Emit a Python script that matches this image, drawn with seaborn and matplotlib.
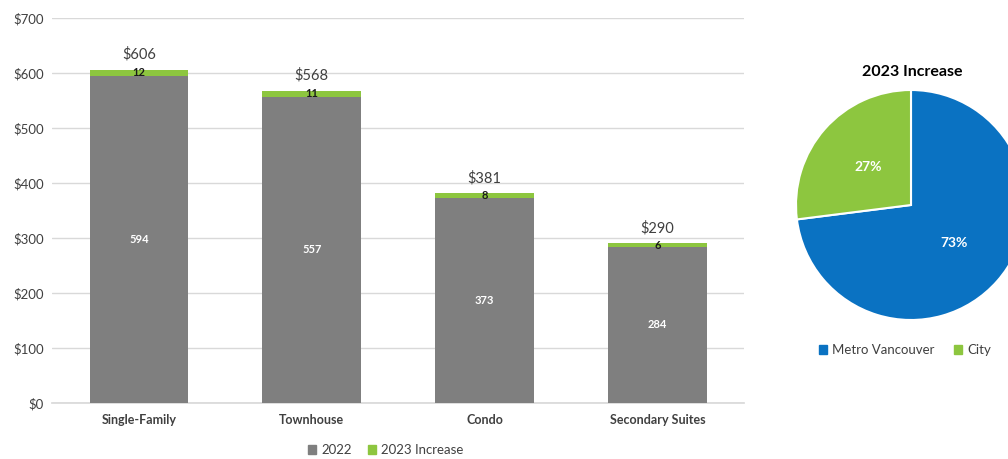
import matplotlib
matplotlib.use("Agg")
import matplotlib.pyplot as plt
import seaborn as sns
import pandas as pd
from matplotlib.patches import Patch

# Residential utility charges by dwelling type
categories = ["Single-Family", "Townhouse", "Condo", "Secondary Suites"]
charge_2022 = [594, 557, 373, 284]
increase_2023 = [12, 11, 8, 6]

# Split of the 2023 increase
pie_labels = ["Metro Vancouver", "City"]
pie_shares = [73, 27]

GRAY = "#7F7F7F"
GREEN = "#8DC63F"
BLUE = "#0A72C2"
TEXT = "#404040"

sns.set_theme(style="white")
plt.rcParams["font.family"] = ["Lato", "DejaVu Sans"]

totals = [a + b for a, b in zip(charge_2022, increase_2023)]
df = pd.DataFrame({"category": categories, "base": charge_2022,
                   "increase": increase_2023, "total": totals})

fig = plt.figure(figsize=(10.08, 4.59), dpi=100)
ax = fig.add_axes([0.052, 0.122, 0.686, 0.839])

sns.barplot(data=df, x="category", y="total", color=GREEN, saturation=1,
            width=0.57, ax=ax, zorder=2, linewidth=0)
sns.barplot(data=df, x="category", y="base", color=GREEN, saturation=1,
            width=0.57, ax=ax, zorder=3, linewidth=0)
for p in ax.patches[len(categories):]:
    p.set_facecolor(GRAY)

ax.set_ylim(0, 700)
ax.set_yticks(range(0, 701, 100))
ax.set_yticklabels([f"${v}" for v in range(0, 701, 100)], fontsize=9.5, color=TEXT)
ax.set_xlabel("")
ax.set_ylabel("")
ax.tick_params(axis="x", length=0, pad=8)
ax.tick_params(axis="y", length=0, pad=6)
for lbl in ax.get_xticklabels():
    lbl.set_fontweight("bold")
    lbl.set_fontsize(9)
    lbl.set_color(TEXT)
ax.yaxis.grid(True, color="#D9D9D9", linewidth=1, zorder=0)
ax.set_axisbelow(True)
for s in ["top", "right", "left"]:
    ax.spines[s].set_visible(False)
ax.spines["bottom"].set_color("#D9D9D9")

for i, (b, inc, t) in enumerate(zip(charge_2022, increase_2023, totals)):
    ax.text(i, b / 2, f"{b}", ha="center", va="center", color="white",
            fontsize=8, fontweight="bold", zorder=5)
    ax.text(i, b + inc / 2, f"{inc}", ha="center", va="center", color="#1A1A1A",
            fontsize=8, fontweight="bold", zorder=5)
    ax.text(i, t + 14, f"${t}", ha="center", va="bottom", color=TEXT,
            fontsize=10.5, zorder=5)

handles = [Patch(color=GRAY, label="2022"), Patch(color=GREEN, label="2023 Increase")]
fig.legend(handles=handles, loc="center", bbox_to_anchor=(386 / 1008, 1 - 450 / 459),
           ncol=2, frameon=False, fontsize=9.5, handlelength=0.6, handleheight=0.6,
           handletextpad=0.4, columnspacing=1.2, labelcolor=TEXT)

# Pie of the 2023 increase
pax = fig.add_axes([796 / 1008, (459 - 320) / 459, 230 / 1008, 230 / 459])
wedges, _, autotexts = pax.pie(pie_shares, colors=[BLUE, GREEN], startangle=90,
                               counterclock=False, autopct="%d%%", pctdistance=0.5,
                               wedgeprops=dict(edgecolor="white", linewidth=1.5),
                               textprops=dict(color="white", fontsize=10,
                                              fontweight="bold"))
pax.set_xlim(-1, 1)
pax.set_ylim(-1, 1)
pax.set_aspect("equal")
pax.axis("off")
fig.text(912 / 1008, 1 - 72 / 459, "2023 Increase", ha="center", va="center",
         fontsize=11.5, fontweight="bold", color="black")
pie_handles = [Patch(color=BLUE, label=pie_labels[0]),
               Patch(color=GREEN, label=pie_labels[1])]
fig.legend(handles=pie_handles, loc="center", bbox_to_anchor=(905 / 1008, 1 - 350 / 459),
           ncol=2, frameon=False, fontsize=9.5, handlelength=0.6, handleheight=0.6,
           handletextpad=0.4, columnspacing=1.5, labelcolor=TEXT)

fig.savefig("out.png", dpi=100)
